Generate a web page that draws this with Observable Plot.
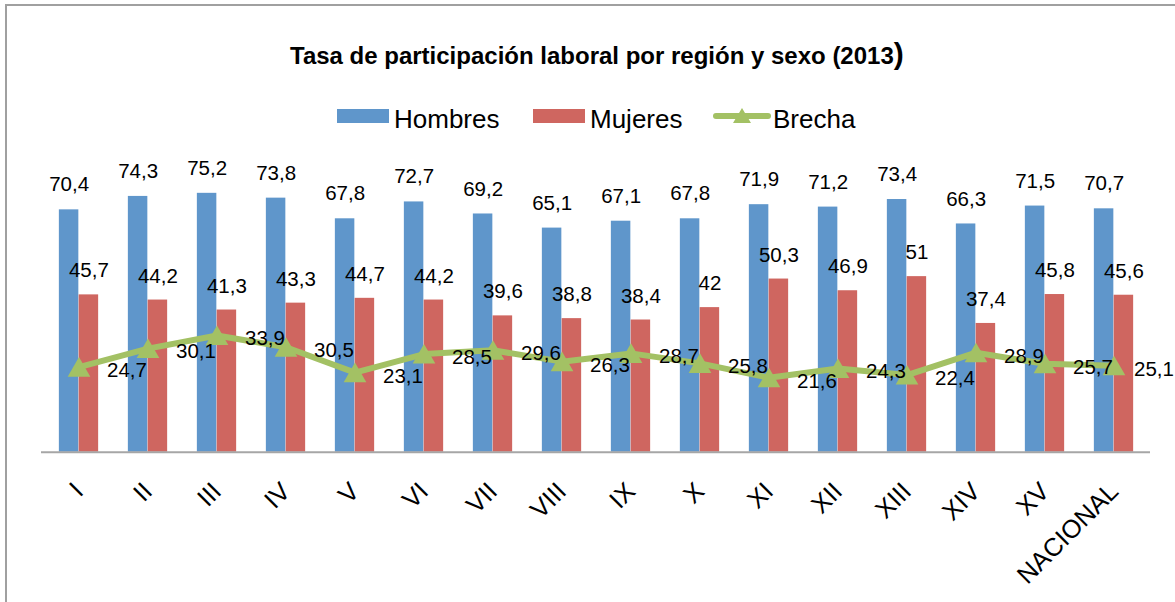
<!DOCTYPE html>
<html><head><meta charset="utf-8">
<script src="https://cdn.jsdelivr.net/npm/d3@7"></script>
<script src="https://cdn.jsdelivr.net/npm/@observablehq/plot@0.6"></script>
<style>
body{margin:0;background:#fff;font-family:"Liberation Sans",Arial,sans-serif;}
#wrap{position:relative;width:1175px;height:602px;overflow:hidden;}
#frame{position:absolute;left:5px;top:4px;width:1300px;height:800px;border:2px solid #a0a0a0;box-sizing:border-box;pointer-events:none;}
#header{position:relative;height:150px;}
#title{position:absolute;left:290px;top:39px;font-weight:bold;font-size:24px;line-height:1;white-space:nowrap;color:#000;}
#title .big{font-size:30px;}
.sw{position:absolute;width:52px;height:14px;top:109px;}
.lt{position:absolute;font-size:26px;line-height:1;top:105.5px;white-space:nowrap;color:#000;}
#chart svg{display:block;}
</style></head>
<body>
<div id="wrap">
  <div id="header">
    <div id="title"></div>
    <div id="legend"></div>
  </div>
  <div id="chart"></div>
  <div id="frame"></div>
</div>
<script>
const titulo = "Tasa de participación laboral por región y sexo (2013";
const tituloCierre = ")";
const series = ["Hombres", "Mujeres", "Brecha"];
const colores = ["#5F96CB", "#CF6660", "#A3C164"];
const regiones = ["I","II","III","IV","V","VI","VII","VIII","IX","X","XI","XII","XIII","XIV","XV","NACIONAL"];
const hombres = [70.4,74.3,75.2,73.8,67.8,72.7,69.2,65.1,67.1,67.8,71.9,71.2,73.4,66.3,71.5,70.7];
const mujeres = [45.7,44.2,41.3,43.3,44.7,44.2,39.6,38.8,38.4,42,50.3,46.9,51,37.4,45.8,45.6];
const brecha = [24.7,30.1,33.9,30.5,23.1,28.5,29.6,26.3,28.7,25.8,21.6,24.3,22.4,28.9,25.7,25.1];

const fmt = v => String(v).replace(".", ",");
const data = regiones.map((r, i) => ({region: r, hombres: hombres[i], mujeres: mujeres[i], brecha: brecha[i]}));
const last = data.length - 1;

// title
const t = document.getElementById("title");
t.textContent = titulo;
const big = document.createElement("span");
big.className = "big";
big.textContent = tituloCierre;
t.appendChild(big);

// legend
const leg = document.getElementById("legend");
const legPos = [337, 533, 714];
series.forEach((s, i) => {
  const x = legPos[i];
  if (i < 2) {
    const sw = document.createElement("div");
    sw.className = "sw";
    sw.style.left = x + "px";
    sw.style.background = colores[i];
    leg.appendChild(sw);
  } else {
    const ns = "http://www.w3.org/2000/svg";
    const svg = document.createElementNS(ns, "svg");
    svg.setAttribute("width", 60); svg.setAttribute("height", 30);
    svg.style.position = "absolute"; svg.style.left = (x - 2) + "px"; svg.style.top = "101px";
    const ln = document.createElementNS(ns, "line");
    ln.setAttribute("x1", 4); ln.setAttribute("x2", 56); ln.setAttribute("y1", 15); ln.setAttribute("y2", 15);
    ln.setAttribute("stroke", colores[2]); ln.setAttribute("stroke-width", 6); ln.setAttribute("stroke-linecap", "round");
    const tri = document.createElementNS(ns, "path");
    tri.setAttribute("d", "M30,7L39,22L21,22Z");
    tri.setAttribute("fill", colores[2]);
    svg.appendChild(ln); svg.appendChild(tri);
    leg.appendChild(svg);
  }
  const lt = document.createElement("div");
  lt.className = "lt";
  lt.style.left = (x + (i < 2 ? 57 : 59)) + "px";
  lt.textContent = s;
  leg.appendChild(lt);
});

// chart
const W = 1175, H = 452;
const mL = 41, mR = 25;
const step = (W - mL - mR) / regiones.length;
const barW = 19.8;
const gap = (step - 2 * barW) / 2;
const FONT = "Liberation Sans, Arial, sans-serif";

const chart = Plot.plot({
  width: W, height: H,
  marginLeft: mL, marginRight: mR, marginTop: 26.3, marginBottom: 150.3,
  x: {domain: regiones, padding: 0, axis: null},
  y: {domain: [0, 80], axis: null},
  style: {fontFamily: FONT, background: "transparent", color: "#000"},
  marks: [
    Plot.barY(data, {x: "region", y: "hombres", fill: colores[0], insetLeft: gap, insetRight: gap + barW}),
    Plot.barY(data, {x: "region", y: "mujeres", fill: colores[1], insetLeft: gap + barW, insetRight: gap}),
    Plot.ruleY([0], {stroke: "#a6a6a6", strokeWidth: 2}),
    Plot.line(data, {x: "region", y: "brecha", stroke: colores[2], strokeWidth: 6}),
    Plot.dot(data, {x: "region", y: "brecha", symbol: "triangle", r: 8.4, fill: colores[2], dy: 3}),
    Plot.text(data, {x: "region", y: "hombres", text: d => fmt(d.hombres), dx: -barW / 2, dy: -25, fontSize: 20.5, fill: "#000"}),
    Plot.text(data, {x: "region", y: "mujeres", text: d => fmt(d.mujeres), dx: barW / 2, dy: -24, fontSize: 20.5, fill: "#000"}),
    Plot.text(data.slice(0, last), {x: "region", y: "brecha", text: d => fmt(d.brecha), dx: 28, dy: 3.3, textAnchor: "start", fontSize: 20.5, fill: "#000"}),
    Plot.text(data.slice(last), {x: "region", y: "brecha", text: d => fmt(d.brecha), dx: 20, dy: 3.3, textAnchor: "start", fontSize: 20.5, fill: "#000"}),
    Plot.text(regiones, {x: d => d, text: d => d, frameAnchor: "bottom", dy: 35, rotate: -45, textAnchor: "end", lineAnchor: "middle", fontSize: 25.5, fill: "#000"})
  ]
});
document.getElementById("chart").appendChild(chart);
</script>
</body></html>
